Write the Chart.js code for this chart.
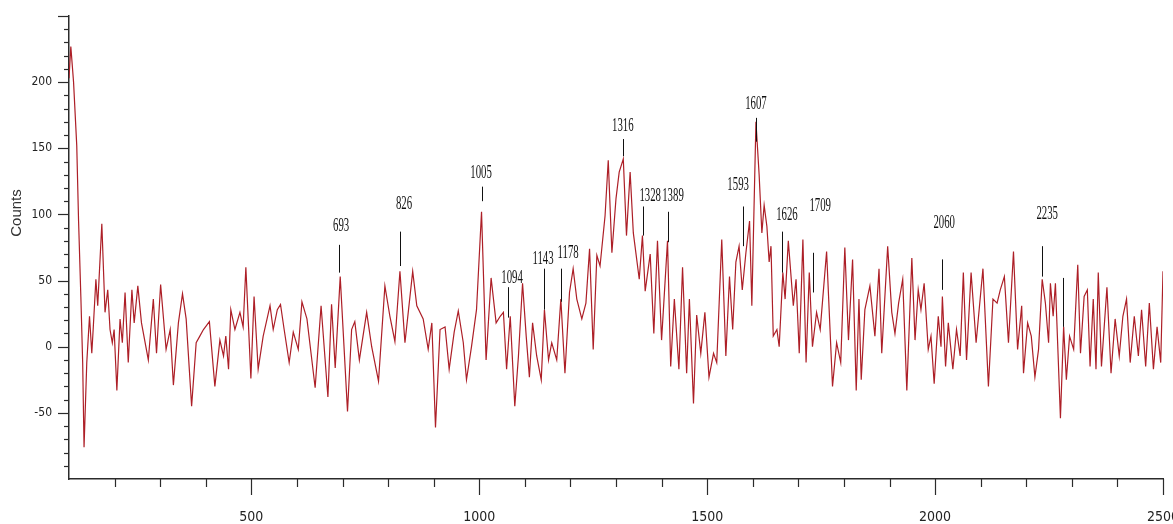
<!DOCTYPE html>
<html>
<head>
<meta charset="utf-8">
<script src="https://cdn.jsdelivr.net/npm/chart.js@4.4.1/dist/chart.umd.min.js"></script>
<style>
html, body { margin: 0; padding: 0; background: #fff; }
</style>
</head>
<body>
<canvas id="myChart" width="1173" height="524"></canvas>
<script>
// spectrum (x = wavenumber, y = counts)
var wavenumbers = [100,104,110,117,121,126,130,133,139,145,150,153,159,163,172,179,185,190,195,199,
  205,212,217,223,230,238,243,251,259,274,285,292,301,313,322,329,340,349,357,369,
  379,387,395,408,420,431,439,444,450,455,464,475,482,488,499,506,515,526,541,548,
  557,564,572,583,592,603,611,622,640,653,668,676,684,695,711,720,727,737,753,764,
  779,793,804,815,826,837,854,863,877,888,896,904,914,925,934,945,954,965,972,983,
  994,1005,1015,1026,1037,1046,1053,1060,1068,1078,1086,1095,1103,1110,1117,1126,1136,1143,1152,1159,
  1170,1179,1188,1198,1206,1214,1225,1234,1242,1250,1258,1265,1276,1283,1291,1300,1307,1316,1323,1331,
  1338,1351,1358,1364,1375,1383,1391,1400,1413,1420,1428,1438,1446,1455,1461,1470,1477,1486,1495,1504,
  1514,1521,1532,1541,1549,1556,1563,1570,1577,1585,1593,1598,1607,1614,1620,1625,1631,1636,1640,1645,
  1653,1658,1666,1671,1678,1689,1695,1702,1710,1717,1724,1731,1740,1748,1762,1775,1784,1793,1802,1810,
  1819,1827,1833,1838,1846,1857,1868,1877,1883,1896,1905,1912,1920,1929,1938,1949,1956,1963,1969,1976,
  1985,1991,1998,2007,2013,2016,2023,2029,2039,2047,2055,2062,2069,2079,2090,2105,2117,2127,2136,2143,
  2152,2161,2172,2181,2190,2194,2203,2211,2219,2227,2235,2242,2249,2253,2259,2264,2275,2282,2288,2295,
  2304,2313,2319,2327,2334,2340,2347,2353,2358,2365,2377,2386,2395,2404,2412,2420,2428,2437,2446,2453,
  2462,2470,2479,2487,2495,2500];
var counts = [203,227,200,152,95,38,-12,-76,-12,23,-5,13,51,31,93,26,43,13,3,13,
  -33,21,3,41,-12,43,18,46,18,-10,36,-5,47,-2,13,-29,18,40,21,-45,
  3,8,13,19,-30,5,-7,8,-17,28,13,26,15,60,-24,38,-17,8,31,13,
  28,32,13,-12,11,-2,34,21,-31,31,-38,32,-16,53,-49,13,19,-10,26,0,
  -26,46,23,4,57,3,57,31,21,-2,18,-61,13,15,-17,11,27,3,-25,0,
  28,102,-10,52,18,23,26,-17,23,-45,-7,48,8,-23,18,-7,-25,28,-10,3,
  -10,36,-20,41,59,36,21,33,74,-2,69,61,99,141,71,112,132,142,84,132,
  86,51,84,42,70,10,80,5,80,-15,36,-17,60,-20,36,-43,24,-5,26,-23,
  -5,-12,81,-7,53,13,64,76,43,71,95,31,170,130,86,107,91,64,76,8,
  13,0,56,36,80,31,51,-5,81,-12,56,0,26,13,72,-30,3,-12,75,5,
  66,-33,36,-25,28,46,8,59,-5,76,26,10,33,51,-33,67,5,43,28,48,
  -2,8,-28,23,0,38,-15,18,-17,13,-7,56,-10,56,3,59,-30,36,33,43,
  53,3,72,-2,31,-20,18,8,-23,-2,51,33,3,48,23,48,-54,15,-25,8,
  -2,62,-5,38,43,-15,36,-17,56,-15,45,-20,21,-7,23,36,-12,23,-7,28,
  -15,33,-17,15,-12,57];

// peak annotations
var peakLabels = ['693','826','1005','1094','1143','1178','1316','1328','1389','1593','1607','1626','1709','2060','2235',''];
var peakLabelX = [697,835,1004,1072,1140,1195,1315,1375,1425,1568,1607,1675,1748,2020,2246,2281];
var peakLabelY = [91,108,131,52,66,71,167,114,114,122,183,99,106,93,100,0];
var markerX = [693,826,1005,1063,1142,1179,1316,1359,1414,1579,1607,1664,1732,2015,2235,2281];
var markerTop = [77,87,121,45,59,59,157,106,102,106,173,87,71,66,76,52];
var markerBottom = [56,61,110,22,28,34,144,84,79,76,155,56,41,43,53,15];

var xTickLabels = [500, 1000, 1500, 2000, 2500];
var yTickLabels = [-50, 0, 50, 100, 150, 200];

var points = wavenumbers.map(function(w, i) { return { x: w, y: counts[i] }; });

var Data = {
    datasets : [
        {   label : 'Counts',
            data : points,
            borderColor : '#ad1f27',
            borderWidth : 1.2,
            pointRadius : 0,
            tension : 0,
            fill : false
        }
    ]
}

// tick marks, peak markers and the rotated axis title
var spectrumMarks = {
    id: 'spectrumMarks',
    afterDraw: function(chart) {
        var ctx = chart.ctx;
        var xs = chart.scales.x, ys = chart.scales.y;
        var area = chart.chartArea;
        ctx.save();
        ctx.strokeStyle = '#2b2b2b';
        ctx.lineWidth = 1.2;
        xs.ticks.forEach(function(t) {
            if (t.value <= xs.min) return;
            var px = Math.round(xs.getPixelForValue(t.value)) + 0.5;
            var len = xTickLabels.indexOf(t.value) >= 0 ? 16 : 8;
            ctx.beginPath();
            ctx.moveTo(px, area.bottom);
            ctx.lineTo(px, area.bottom + len);
            ctx.stroke();
        });
        ys.ticks.forEach(function(t) {
            if (t.value <= ys.min) return;
            var py = Math.round(ys.getPixelForValue(t.value)) + 0.5;
            var len = t.value % 50 === 0 ? 11 : 5;
            ctx.beginPath();
            ctx.moveTo(area.left, py);
            ctx.lineTo(area.left - len, py);
            ctx.stroke();
        });

        ctx.strokeStyle = '#111';
        ctx.lineWidth = 1;
        ctx.fillStyle = '#111';
        ctx.textAlign = 'center';
        ctx.textBaseline = 'middle';
        ctx.font = '18px "Liberation Serif", "Times New Roman", serif';
        for (var i = 0; i < markerX.length; i++) {
            var mx = Math.round(xs.getPixelForValue(markerX[i])) + 0.5;
            ctx.beginPath();
            ctx.moveTo(mx, ys.getPixelForValue(markerTop[i]));
            ctx.lineTo(mx, ys.getPixelForValue(markerBottom[i]));
            ctx.stroke();
            if (peakLabels[i]) {
                ctx.save();
                ctx.translate(xs.getPixelForValue(peakLabelX[i]), ys.getPixelForValue(peakLabelY[i]));
                ctx.scale(0.6, 1);
                ctx.fillText(peakLabels[i], 0, 0);
                ctx.restore();
            }
        }

        ctx.save();
        ctx.translate(17, 213);
        ctx.rotate(-Math.PI / 2);
        ctx.fillStyle = '#333';
        ctx.font = '15px "Liberation Sans", Arial, sans-serif';
        ctx.fillText('Counts', 0, 0);
        ctx.restore();
        ctx.restore();
    }
};

window.onload = function() {
    var ctx = document.getElementById('myChart').getContext('2d');

    window.myLine = new Chart(ctx, {
        type: 'line',
        data: Data,
        plugins: [spectrumMarks],
        options: {
            responsive: false,
            animation: false,
            layout: { padding: { top: 16, right: 10, left: 0, bottom: 0 } },
            plugins: {
                legend: { display: false },
                tooltip: { enabled: false }
            },
            scales: {
                x: {
                    type: 'linear',
                    min: 100,
                    max: 2500,
                    grid: { drawOnChartArea: false, drawTicks: false },
                    border: { display: true, color: '#2b2b2b', width: 1.5 },
                    ticks: {
                        stepSize: 100,
                        autoSkip: false,
                        maxRotation: 0,
                        padding: 30,
                        color: '#222',
                        font: { family: '"Liberation Sans Narrow", "DejaVu Sans Condensed", sans-serif', size: 14 },
                        callback: function(v) { return xTickLabels.indexOf(v) >= 0 ? String(v) : ''; }
                    },
                    afterFit: function(s) { s.height = 45; s.paddingLeft = 0; s.paddingRight = 0; }
                },
                y: {
                    min: -100,
                    max: 250,
                    grid: { drawOnChartArea: false, drawTicks: false },
                    border: { display: true, color: '#2b2b2b', width: 1.5 },
                    ticks: {
                        stepSize: 10,
                        autoSkip: false,
                        padding: 17,
                        color: '#222',
                        font: { family: '"Liberation Sans Narrow", "DejaVu Sans Condensed", sans-serif', size: 12 },
                        callback: function(v) { return yTickLabels.indexOf(v) >= 0 ? String(v) : ''; }
                    },
                    afterFit: function(s) { s.width = 69; s.paddingTop = 0; s.paddingBottom = 0; }
                }
            }
        }
    });
};
</script>
</body>
</html>
